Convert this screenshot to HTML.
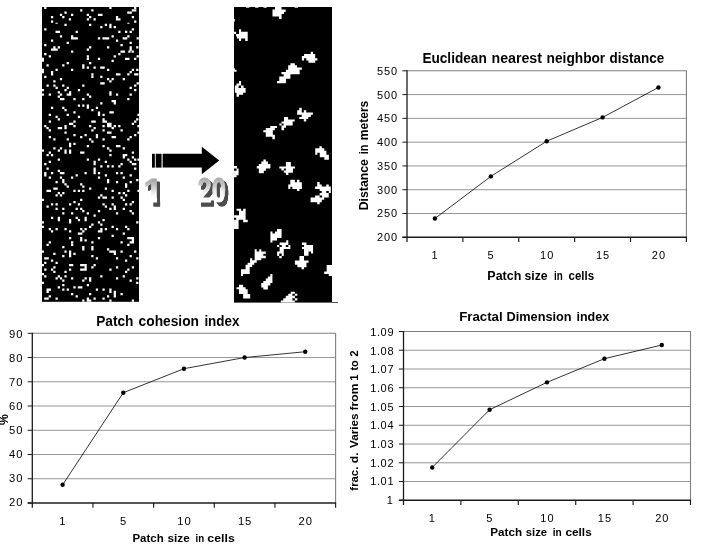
<!DOCTYPE html>
<html lang="en"><head><meta charset="utf-8">
<style>
html,body{margin:0;padding:0;background:#fff;}
body{width:702px;height:546px;overflow:hidden;font-family:"Liberation Sans",sans-serif;}
svg{display:block;position:absolute;left:0;top:0;}
text{font-family:"Liberation Sans",sans-serif;fill:#000;}
.b{font-weight:bold;}
.g{stroke:#969696;stroke-width:1;fill:none;}
.bd{stroke:#7e7e7e;stroke-width:1.1;}
.ax{stroke:#1c1c1c;stroke-width:1.5;fill:none;}
.ln{stroke:#000;stroke-width:0.8;fill:none;}
</style></head><body>
<svg width="702" height="546" viewBox="0 0 702 546">
<rect x="0" y="0" width="702" height="546" fill="#fff"/>
<g id="raster-left"><rect x="42" y="7" width="97" height="294.8" fill="#000"/>
<path d="M44.18 7.00H46.43V9.12H44.18zM80.12 9.18H82.37V11.43H80.12zM91.27 9.18H93.52V11.43H91.27zM64.42 11.49H66.67V13.74H64.42zM59.88 13.72H62.13V15.97H59.88zM71.03 13.72H73.28V15.97H71.03zM86.73 13.72H88.98V15.97H86.73zM50.95 15.95H53.20V18.20H50.95zM62.19 15.95H64.44V18.20H62.19zM89.04 15.95H91.29V18.20H89.04zM68.80 18.27H71.05V20.52H68.80zM86.73 18.27H88.98V20.52H86.73zM93.50 18.27H95.75V20.52H93.50zM50.95 20.50H53.20V22.75H50.95zM55.50 22.71H57.75V23.84H55.50zM64.42 23.80H66.67V26.05H64.42zM89.04 23.80H91.29V26.05H89.04zM44.18 28.35H46.43V30.60H44.18zM55.50 30.66H57.75V32.91H55.50zM57.73 30.66H59.98V32.91H57.73zM75.58 30.66H77.83V32.91H75.58zM59.88 35.21H62.13V37.46H59.88zM71.03 35.21H73.28V37.46H71.03zM71.03 37.27H73.28V39.52H71.03zM73.35 37.27H75.60V39.52H73.35zM75.58 37.27H77.83V39.52H75.58zM50.95 39.58H53.20V41.83H50.95zM66.65 41.82H68.90V44.07H66.65zM44.18 44.05H46.43V46.30H44.18zM53.27 46.36H55.52V48.61H53.27zM57.73 46.36H59.98V48.61H57.73zM89.04 46.36H91.29V48.61H89.04zM50.95 48.59H53.20V50.84H50.95zM53.27 48.59H55.52V50.84H53.27zM55.50 48.59H57.75V50.84H55.50zM86.73 48.59H88.98V50.84H86.73zM71.03 50.49H73.28V52.74H71.03zM109.31 7.00H111.56V9.12H109.31zM134.10 7.00H136.35V9.12H134.10zM134.10 9.18H136.35V11.43H134.10zM131.79 9.18H134.04V11.43H131.79zM127.24 11.49H129.49V13.74H127.24zM129.56 11.49H131.81V13.74H129.56zM97.91 13.72H100.16V15.97H97.91zM100.23 13.72H102.48V15.97H100.23zM115.92 15.95H118.17V18.20H115.92zM131.79 15.95H134.04V18.20H131.79zM115.92 18.27H118.17V20.52H115.92zM118.24 18.27H120.49V20.52H118.24zM134.10 20.50H136.35V22.75H134.10zM127.24 22.71H129.49V23.84H127.24zM104.77 23.80H107.02V26.05H104.77zM109.31 23.80H111.56V26.05H109.31zM100.23 26.12H102.48V28.37H100.23zM109.31 26.12H111.56V28.37H109.31zM113.69 26.12H115.94V28.37H113.69zM131.79 28.35H134.04V30.60H131.79zM118.24 30.66H120.49V32.91H118.24zM125.01 30.66H127.26V32.91H125.01zM129.56 30.66H131.81V32.91H129.56zM111.54 35.21H113.79V37.46H111.54zM127.24 35.21H129.49V37.46H127.24zM97.91 37.27H100.16V39.52H97.91zM102.46 37.27H104.71V39.52H102.46zM104.77 37.27H107.02V39.52H104.77zM107.00 37.27H109.25V39.52H107.00zM122.70 37.27H124.95V39.52H122.70zM125.01 37.27H127.26V39.52H125.01zM136.58 37.27H138.83V39.52H136.58zM115.92 39.58H118.17V41.83H115.92zM129.56 41.82H131.81V44.07H129.56zM120.47 44.05H122.72V46.30H120.47zM107.00 46.36H109.25V48.61H107.00zM129.56 46.36H131.81V48.61H129.56zM136.17 46.36H138.42V48.61H136.17zM129.56 48.59H131.81V50.84H129.56zM120.47 50.49H122.72V52.74H120.47zM122.70 50.49H124.95V52.74H122.70zM128.32 50.49H130.57V52.74H128.32zM131.62 50.49H133.87V52.74H131.62zM44.18 53.11H46.43V55.36H44.18zM48.72 55.34H50.97V57.59H48.72zM86.73 55.34H88.98V57.59H86.73zM86.73 57.65H88.98V59.90H86.73zM97.88 57.65H100.13V59.90H97.88zM42.00 57.65H43.95V59.90H42.00zM42.00 59.55H43.95V61.80H42.00zM66.65 62.03H68.90V64.28H66.65zM89.04 62.03H91.29V64.28H89.04zM46.49 64.26H48.74V66.51H46.49zM62.19 64.26H64.44V66.51H62.19zM82.19 64.26H84.44V66.51H82.19zM82.19 66.57H84.44V68.82H82.19zM86.73 66.57H88.98V68.82H86.73zM93.50 66.57H95.75V68.82H93.50zM55.50 68.80H57.75V71.05H55.50zM71.03 68.80H73.28V71.05H71.03zM42.00 68.80H43.95V71.05H42.00zM42.00 71.12H43.95V73.37H42.00zM50.95 71.12H53.20V73.37H50.95zM50.95 73.35H53.20V75.60H50.95zM91.27 73.35H93.52V75.60H91.27zM91.27 75.66H93.52V77.91H91.27zM44.18 75.66H46.43V77.91H44.18zM59.88 77.89H62.13V80.14H59.88zM53.27 80.21H55.52V82.46H53.27zM46.49 84.58H48.74V86.83H46.49zM53.27 84.58H55.52V86.83H53.27zM62.19 84.58H64.44V86.83H62.19zM82.19 84.58H84.44V86.83H82.19zM55.50 86.82H57.75V89.07H55.50zM66.65 86.82H68.90V89.07H66.65zM42.00 89.05H43.95V91.30H42.00zM64.42 89.05H66.67V91.30H64.42zM77.81 89.05H80.06V91.30H77.81zM57.73 91.36H59.98V93.61H57.73zM68.97 91.36H71.22V93.61H68.97zM42.00 93.59H43.95V95.84H42.00zM48.72 93.59H50.97V95.84H48.72zM59.88 93.59H62.13V95.84H59.88zM66.65 93.59H68.90V95.84H66.65zM68.97 93.59H71.22V95.84H68.97zM86.73 93.59H88.98V95.84H86.73zM57.73 95.49H59.98V97.74H57.73zM89.04 95.49H91.29V97.74H89.04zM118.24 53.11H120.49V55.36H118.24zM113.69 55.34H115.94V57.59H113.69zM136.58 55.34H138.83V57.59H136.58zM125.01 57.65H127.26V59.90H125.01zM127.24 57.65H129.49V59.90H127.24zM134.10 57.65H136.35V59.90H134.10zM111.54 59.80H113.79V62.05H111.54zM100.23 66.57H102.48V68.82H100.23zM102.46 66.57H104.71V68.82H102.46zM107.00 68.80H109.25V71.05H107.00zM131.79 68.80H134.04V71.05H131.79zM136.17 68.80H138.42V71.05H136.17zM129.56 71.12H131.81V73.37H129.56zM115.92 73.35H118.17V75.60H115.92zM118.24 73.35H120.49V75.60H118.24zM127.24 73.35H129.49V75.60H127.24zM134.10 73.35H136.35V75.60H134.10zM136.17 73.35H138.42V75.60H136.17zM100.23 75.66H102.48V77.91H100.23zM107.00 77.89H109.25V80.14H107.00zM111.54 77.89H113.79V80.14H111.54zM122.70 77.89H124.95V80.14H122.70zM109.31 80.21H111.56V82.46H109.31zM100.23 82.27H102.48V84.52H100.23zM102.46 82.27H104.71V84.52H102.46zM136.58 82.27H138.83V84.52H136.58zM134.10 84.58H136.35V86.83H134.10zM129.56 86.82H131.81V89.07H129.56zM134.10 89.05H136.35V91.30H134.10zM109.31 91.36H111.56V93.61H109.31zM109.31 93.59H111.56V95.84H109.31zM115.92 93.59H118.17V95.84H115.92zM129.56 93.59H131.81V95.84H129.56zM59.88 97.94H62.13V100.19H59.88zM62.19 97.94H64.44V100.19H62.19zM73.35 97.94H75.60V100.19H73.35zM82.19 97.94H84.44V100.19H82.19zM77.81 104.55H80.06V106.80H77.81zM82.19 104.55H84.44V106.80H82.19zM86.73 104.55H88.98V106.80H86.73zM86.73 106.62H88.98V108.87H86.73zM50.95 106.86H53.20V109.11H50.95zM62.19 106.86H64.44V109.11H62.19zM95.82 106.86H98.07V109.11H95.82zM64.42 109.09H66.67V111.34H64.42zM91.27 109.09H93.52V111.34H91.27zM73.35 111.33H75.60V113.58H73.35zM97.88 111.57H100.13V113.82H97.88zM97.88 113.64H100.13V115.89H97.88zM48.72 113.64H50.97V115.89H48.72zM66.65 113.64H68.90V115.89H66.65zM55.50 115.87H57.75V118.12H55.50zM77.81 115.87H80.06V118.12H77.81zM57.73 118.18H59.98V120.43H57.73zM48.72 120.41H50.97V122.66H48.72zM73.35 120.41H75.60V122.66H73.35zM91.27 120.41H93.52V122.66H91.27zM93.50 120.41H95.75V122.66H93.50zM68.97 122.73H71.22V124.98H68.97zM71.03 122.73H73.28V124.98H71.03zM44.18 124.96H46.43V127.21H44.18zM73.35 124.96H75.60V127.21H73.35zM89.04 124.96H91.29V127.21H89.04zM64.42 124.96H66.67V127.21H64.42zM64.42 127.11H66.67V129.36H64.42zM46.49 127.11H48.74V129.36H46.49zM57.73 127.11H59.98V129.36H57.73zM59.88 127.11H62.13V129.36H59.88zM93.50 127.11H95.75V129.36H93.50zM48.72 129.34H50.97V131.59H48.72zM91.27 129.34H93.52V131.59H91.27zM64.42 131.57H66.67V133.82H64.42zM73.35 133.88H75.60V136.13H73.35zM84.50 133.88H86.75V136.13H84.50zM95.82 133.88H98.07V136.13H95.82zM95.82 136.11H98.07V138.36H95.82zM48.72 136.11H50.97V138.36H48.72zM80.12 136.11H82.37V138.36H80.12zM53.27 138.34H55.52V140.59H53.27zM66.65 138.34H68.90V140.59H66.65zM89.04 138.34H91.29V140.59H89.04zM91.27 140.49H93.52V142.74H91.27zM127.24 97.94H129.49V100.19H127.24zM111.54 100.01H113.79V102.26H111.54zM113.69 100.01H115.94V102.26H113.69zM113.69 102.32H115.94V104.57H113.69zM100.23 102.32H102.48V104.57H100.23zM109.31 111.33H111.56V113.58H109.31zM111.54 111.33H113.79V113.58H111.54zM102.46 113.64H104.71V115.89H102.46zM137.40 113.64H139.00V115.89H137.40zM102.46 118.18H104.71V120.43H102.46zM102.46 120.41H104.71V122.66H102.46zM104.77 120.41H107.02V122.66H104.77zM136.17 118.18H138.42V120.43H136.17zM134.10 120.41H136.35V122.66H134.10zM107.00 122.73H109.25V124.98H107.00zM109.31 122.73H111.56V124.98H109.31zM107.00 124.96H109.25V127.21H107.00zM109.31 124.96H111.56V127.21H109.31zM131.79 122.73H134.04V124.98H131.79zM102.46 124.96H104.71V127.21H102.46zM113.69 124.96H115.94V127.21H113.69zM118.24 124.96H120.49V127.21H118.24zM137.40 124.96H139.00V127.21H137.40zM111.54 127.11H113.79V129.36H111.54zM102.46 129.34H104.71V131.59H102.46zM120.47 129.34H122.72V131.59H120.47zM107.00 131.57H109.25V133.82H107.00zM109.31 131.57H111.56V133.82H109.31zM137.40 131.57H139.00V133.82H137.40zM134.10 133.88H136.35V136.13H134.10zM111.54 136.11H113.79V138.36H111.54zM113.69 136.11H115.94V138.36H113.69zM129.56 136.11H131.81V138.36H129.56zM102.46 138.34H104.71V140.59H102.46zM127.24 138.34H129.49V140.59H127.24zM68.97 142.69H71.22V144.94H68.97zM68.97 145.01H71.22V147.26H68.97zM73.35 142.69H75.60V144.94H73.35zM86.73 145.01H88.98V147.26H86.73zM53.27 147.24H55.52V149.49H53.27zM59.88 147.24H62.13V149.49H59.88zM42.00 149.55H43.95V151.80H42.00zM57.73 149.55H59.98V151.80H57.73zM64.42 149.55H66.67V151.80H64.42zM64.42 151.62H66.67V153.87H64.42zM68.97 149.55H71.22V151.80H68.97zM68.97 151.62H71.22V153.87H68.97zM48.72 151.62H50.97V153.87H48.72zM80.12 151.62H82.37V153.87H80.12zM82.19 151.62H84.44V153.87H82.19zM46.49 153.93H48.74V156.18H46.49zM50.95 153.93H53.20V156.18H50.95zM57.73 158.47H59.98V160.72H57.73zM86.73 158.47H88.98V160.72H86.73zM97.88 158.47H100.13V160.72H97.88zM48.72 160.70H50.97V162.95H48.72zM93.50 160.70H95.75V162.95H93.50zM93.50 162.93H95.75V165.18H93.50zM44.18 162.93H46.43V165.18H44.18zM46.49 167.48H48.74V169.73H46.49zM93.50 167.48H95.75V169.73H93.50zM93.50 169.79H95.75V172.04H93.50zM93.50 172.02H95.75V174.27H93.50zM57.73 169.79H59.98V172.04H57.73zM44.18 172.02H46.43V174.27H44.18zM44.18 174.25H46.43V176.50H44.18zM50.95 172.02H53.20V174.27H50.95zM59.88 172.02H62.13V174.27H59.88zM62.19 172.02H64.44V174.27H62.19zM84.50 172.02H86.75V174.27H84.50zM97.88 172.02H100.13V174.27H97.88zM75.58 174.25H77.83V176.50H75.58zM48.72 176.57H50.97V178.82H48.72zM59.88 176.57H62.13V178.82H59.88zM71.03 176.57H73.28V178.82H71.03zM97.88 176.57H100.13V178.82H97.88zM62.19 178.88H64.44V181.13H62.19zM62.19 180.95H64.44V183.20H62.19zM55.50 180.95H57.75V183.20H55.50zM64.42 183.18H66.67V185.43H64.42zM80.12 183.18H82.37V185.43H80.12zM66.65 185.49H68.90V187.74H66.65zM82.19 185.49H84.44V187.74H82.19zM102.46 145.01H104.71V147.26H102.46zM115.92 145.01H118.17V147.26H115.92zM118.24 145.01H120.49V147.26H118.24zM107.00 147.24H109.25V149.49H107.00zM122.70 147.24H124.95V149.49H122.70zM109.31 149.55H111.56V151.80H109.31zM131.79 151.62H134.04V153.87H131.79zM109.31 153.93H111.56V156.18H109.31zM122.70 153.93H124.95V156.18H122.70zM125.01 153.93H127.26V156.18H125.01zM122.70 156.16H124.95V158.41H122.70zM131.79 156.16H134.04V158.41H131.79zM127.24 158.47H129.49V160.72H127.24zM134.10 158.47H136.35V160.72H134.10zM137.40 158.47H139.00V160.72H137.40zM104.77 160.70H107.02V162.95H104.77zM129.56 160.70H131.81V162.95H129.56zM120.47 162.93H122.72V165.18H120.47zM131.79 162.93H134.04V165.18H131.79zM134.10 162.93H136.35V165.18H134.10zM100.23 165.25H102.48V167.50H100.23zM107.00 165.25H109.25V167.50H107.00zM111.54 165.25H113.79V167.50H111.54zM118.24 165.25H120.49V167.50H118.24zM134.10 167.48H136.35V169.73H134.10zM115.92 172.02H118.17V174.27H115.92zM120.47 172.02H122.72V174.27H120.47zM104.77 174.25H107.02V176.50H104.77zM129.56 174.25H131.81V176.50H129.56zM122.70 176.57H124.95V178.82H122.70zM136.17 178.88H138.42V181.13H136.17zM107.00 178.88H109.25V181.13H107.00zM107.00 180.95H109.25V183.20H107.00zM115.92 180.95H118.17V183.20H115.92zM129.56 180.95H131.81V183.20H129.56zM125.01 183.18H127.26V185.43H125.01zM125.01 185.49H127.26V187.74H125.01zM53.27 187.53H55.52V189.78H53.27zM55.50 187.53H57.75V189.78H55.50zM89.04 187.53H91.29V189.78H89.04zM46.49 189.76H48.74V192.01H46.49zM48.72 189.76H50.97V192.01H48.72zM73.35 189.76H75.60V192.01H73.35zM77.81 189.76H80.06V192.01H77.81zM82.19 189.76H84.44V192.01H82.19zM57.73 192.07H59.98V194.32H57.73zM62.19 192.07H64.44V194.32H62.19zM55.50 194.30H57.75V196.55H55.50zM59.88 194.30H62.13V196.55H59.88zM97.88 196.62H100.13V198.87H97.88zM42.00 198.85H43.95V201.10H42.00zM80.12 198.85H82.37V201.10H80.12zM73.35 201.08H75.60V203.33H73.35zM50.95 203.31H53.20V205.56H50.95zM55.50 203.31H57.75V205.56H55.50zM68.97 203.31H71.22V205.56H68.97zM77.81 203.31H80.06V205.56H77.81zM46.49 205.54H48.74V207.79H46.49zM55.50 207.77H57.75V210.02H55.50zM62.19 207.77H64.44V210.02H62.19zM75.58 207.77H77.83V210.02H75.58zM80.12 207.77H82.37V210.02H80.12zM82.19 210.08H84.44V212.33H82.19zM97.88 210.08H100.13V212.33H97.88zM62.19 212.31H64.44V214.56H62.19zM71.03 212.31H73.28V214.56H71.03zM86.73 212.31H88.98V214.56H86.73zM93.50 214.54H95.75V216.79H93.50zM50.95 216.86H53.20V219.11H50.95zM57.73 216.86H59.98V219.11H57.73zM57.73 219.09H59.98V221.34H57.73zM75.58 216.86H77.83V219.11H75.58zM84.50 216.86H86.75V219.11H84.50zM84.50 219.09H86.75V221.34H84.50zM77.81 219.09H80.06V221.34H77.81zM68.97 219.09H71.22V221.34H68.97zM68.97 221.32H71.22V223.57H68.97zM42.00 221.32H43.95V223.57H42.00zM97.88 221.32H100.13V223.57H97.88zM91.27 223.55H93.52V225.80H91.27zM42.00 225.86H43.95V228.11H42.00zM89.04 225.86H91.29V228.11H89.04zM48.72 228.09H50.97V230.34H48.72zM55.50 228.09H57.75V230.34H55.50zM64.42 228.09H66.67V230.34H64.42zM80.12 228.09H82.37V230.34H80.12zM84.50 228.09H86.75V230.34H84.50zM50.95 230.33H53.20V232.58H50.95zM68.97 230.33H71.22V232.58H68.97zM82.19 230.33H84.44V232.58H82.19zM97.88 230.33H100.13V232.58H97.88zM104.77 187.53H107.02V189.78H104.77zM111.54 189.76H113.79V192.01H111.54zM127.24 189.76H129.49V192.01H127.24zM137.40 189.76H139.00V192.01H137.40zM118.24 192.07H120.49V194.32H118.24zM122.70 192.07H124.95V194.32H122.70zM100.23 194.30H102.48V196.55H100.23zM125.01 194.30H127.26V196.55H125.01zM102.46 196.62H104.71V198.87H102.46zM104.77 196.62H107.02V198.87H104.77zM111.54 196.62H113.79V198.87H111.54zM120.47 196.62H122.72V198.87H120.47zM122.70 198.85H124.95V201.10H122.70zM131.79 201.08H134.04V203.33H131.79zM102.46 203.31H104.71V205.56H102.46zM111.54 203.31H113.79V205.56H111.54zM125.01 203.31H127.26V205.56H125.01zM129.56 203.31H131.81V205.56H129.56zM104.77 205.54H107.02V207.79H104.77zM113.69 205.54H115.94V207.79H113.69zM113.69 207.77H115.94V210.02H113.69zM109.31 207.77H111.56V210.02H109.31zM122.70 207.77H124.95V210.02H122.70zM129.56 210.08H131.81V212.33H129.56zM115.92 212.31H118.17V214.56H115.92zM131.79 212.31H134.04V214.56H131.79zM102.46 219.09H104.71V221.34H102.46zM136.17 221.32H138.42V223.57H136.17zM100.23 223.55H102.48V225.80H100.23zM111.54 225.86H113.79V228.11H111.54zM125.01 225.86H127.26V228.11H125.01zM104.77 228.09H107.02V230.34H104.77zM115.92 228.09H118.17V230.34H115.92zM127.24 228.09H129.49V230.34H127.24zM100.23 228.09H102.48V230.34H100.23zM100.23 230.33H102.48V232.58H100.23zM77.81 232.53H80.06V234.78H77.81zM80.12 232.53H82.37V234.78H80.12zM68.97 236.91H71.22V239.16H68.97zM80.12 236.91H82.37V239.16H80.12zM80.12 239.14H82.37V241.39H80.12zM97.88 236.91H100.13V239.16H97.88zM84.50 239.14H86.75V241.39H84.50zM48.72 241.37H50.97V243.62H48.72zM71.03 241.37H73.28V243.62H71.03zM71.03 243.68H73.28V245.93H71.03zM91.27 241.37H93.52V243.62H91.27zM46.49 243.68H48.74V245.93H46.49zM62.19 245.91H64.44V248.16H62.19zM82.19 245.91H84.44V248.16H82.19zM82.19 248.14H84.44V250.39H82.19zM91.27 245.91H93.52V248.16H91.27zM91.27 248.14H93.52V250.39H91.27zM42.00 250.46H43.95V252.71H42.00zM64.42 250.46H66.67V252.71H64.42zM68.97 250.46H71.22V252.71H68.97zM68.97 252.69H71.22V254.94H68.97zM68.97 254.92H71.22V257.17H68.97zM53.27 252.69H55.52V254.94H53.27zM73.35 252.69H75.60V254.94H73.35zM62.19 254.92H64.44V257.17H62.19zM91.27 254.92H93.52V257.17H91.27zM44.18 257.15H46.43V259.40H44.18zM46.49 257.15H48.74V259.40H46.49zM95.82 257.15H98.07V259.40H95.82zM50.95 259.38H53.20V261.63H50.95zM44.18 261.69H46.43V263.94H44.18zM55.50 261.69H57.75V263.94H55.50zM42.00 263.92H43.95V266.17H42.00zM68.97 263.92H71.22V266.17H68.97zM71.03 263.92H73.28V266.17H71.03zM93.50 263.92H95.75V266.17H93.50zM80.12 263.92H82.37V266.17H80.12zM82.19 263.92H84.44V266.17H82.19zM84.50 263.92H86.75V266.17H84.50zM84.50 266.15H86.75V268.40H84.50zM80.12 268.47H82.37V270.72H80.12zM82.19 268.47H84.44V270.72H82.19zM84.50 268.47H86.75V270.72H84.50zM53.27 266.15H55.52V268.40H53.27zM91.27 266.15H93.52V268.40H91.27zM44.18 268.47H46.43V270.72H44.18zM50.95 268.47H53.20V270.72H50.95zM68.97 268.47H71.22V270.72H68.97zM53.27 270.70H55.52V272.95H53.27zM64.42 270.70H66.67V272.95H64.42zM42.00 272.93H43.95V275.18H42.00zM44.18 275.16H46.43V277.41H44.18zM57.73 275.16H59.98V277.41H57.73zM64.42 275.16H66.67V277.41H64.42zM122.70 232.53H124.95V234.78H122.70zM111.54 234.76H113.79V237.01H111.54zM127.24 236.91H129.49V239.16H127.24zM129.56 236.91H131.81V239.16H129.56zM131.79 236.91H134.04V239.16H131.79zM131.79 239.14H134.04V241.39H131.79zM129.56 241.37H131.81V243.62H129.56zM131.79 241.37H134.04V243.62H131.79zM127.24 243.68H129.49V245.93H127.24zM120.47 241.37H122.72V243.62H120.47zM107.00 248.14H109.25V250.39H107.00zM109.31 250.46H111.56V252.71H109.31zM111.54 250.46H113.79V252.71H111.54zM113.69 250.46H115.94V252.71H113.69zM113.69 252.69H115.94V254.94H113.69zM120.47 250.46H122.72V252.71H120.47zM134.10 250.46H136.35V252.71H134.10zM129.56 254.92H131.81V257.17H129.56zM115.92 257.15H118.17V259.40H115.92zM136.17 257.15H138.42V259.40H136.17zM125.01 259.38H127.26V261.63H125.01zM115.92 266.15H118.17V268.40H115.92zM131.79 266.15H134.04V268.40H131.79zM109.31 268.47H111.56V270.72H109.31zM127.24 268.47H129.49V270.72H127.24zM125.01 270.70H127.26V272.95H125.01zM100.23 275.16H102.48V277.41H100.23zM122.70 275.16H124.95V277.41H122.70zM55.50 277.30H57.75V279.55H55.50zM59.88 277.30H62.13V279.55H59.88zM71.03 277.30H73.28V279.55H71.03zM84.50 277.30H86.75V279.55H84.50zM89.04 277.30H91.29V279.55H89.04zM89.04 279.62H91.29V281.87H89.04zM62.19 279.62H64.44V281.87H62.19zM82.19 279.62H84.44V281.87H82.19zM42.00 281.85H43.95V284.10H42.00zM62.19 284.08H64.44V286.33H62.19zM86.73 284.08H88.98V286.33H86.73zM57.73 286.31H59.98V288.56H57.73zM73.35 286.31H75.60V288.56H73.35zM77.81 286.31H80.06V288.56H77.81zM80.12 286.31H82.37V288.56H80.12zM46.49 288.54H48.74V290.79H46.49zM48.72 288.54H50.97V290.79H48.72zM46.49 290.77H48.74V293.02H46.49zM62.19 288.54H64.44V290.79H62.19zM66.65 288.54H68.90V290.79H66.65zM95.82 288.54H98.07V290.79H95.82zM71.03 293.08H73.28V295.33H71.03zM89.04 293.08H91.29V295.33H89.04zM48.72 295.31H50.97V297.56H48.72zM75.58 295.31H77.83V297.56H75.58zM44.18 297.54H46.43V299.79H44.18zM46.49 297.54H48.74V299.79H46.49zM55.50 297.54H57.75V299.79H55.50zM86.73 297.54H88.98V299.79H86.73zM93.50 297.54H95.75V299.79H93.50zM82.19 299.61H84.44V301.80H82.19zM86.73 299.61H88.98V301.80H86.73zM89.04 299.61H91.29V301.80H89.04zM115.92 277.30H118.17V279.55H115.92zM136.17 277.30H138.42V279.55H136.17zM129.56 279.62H131.81V281.87H129.56zM136.17 281.85H138.42V284.10H136.17zM102.46 288.54H104.71V290.79H102.46zM109.31 288.54H111.56V290.79H109.31zM109.31 290.77H111.56V293.02H109.31zM113.69 290.77H115.94V293.02H113.69zM113.69 293.08H115.94V295.33H113.69zM113.69 295.31H115.94V297.56H113.69zM120.47 293.08H122.72V295.33H120.47zM107.00 295.31H109.25V297.56H107.00zM102.46 297.54H104.71V299.79H102.46zM109.31 299.61H111.56V301.80H109.31zM131.79 299.61H134.04V301.80H131.79z" fill="#fff"/></g>
<g id="raster-right"><rect x="234" y="7" width="98" height="295.6" fill="#000"/>
<rect x="332" y="302.0" width="6" height="0.7" fill="#000"/>
<path d="M274.96 7.07H281.57V9.54H274.96zM272.48 9.54H285.70V12.02H272.48zM272.48 12.02H284.05V14.09H272.48zM272.48 14.09H281.57V16.57H272.48zM279.09 16.57H281.57V19.05H279.09zM246.05 6.98H249.35V7.81H246.05zM255.13 6.98H258.44V7.81H255.13zM263.40 6.98H266.70V7.81H263.40zM239.02 29.37H241.09V31.85H239.02zM234.07 31.85H236.13V33.92H234.07zM239.02 31.85H247.70V33.92H239.02zM236.13 33.92H247.70V36.40H236.13zM236.96 36.40H247.70V38.46H236.96zM239.02 38.46H241.09V40.94H239.02zM245.22 38.46H247.70V40.94H245.22zM234.07 19.05H234.89V21.52H234.07zM310.74 51.81H312.96V53.89H310.74zM304.07 53.89H315.19V56.11H304.07zM301.85 56.11H315.19V58.33H301.85zM301.85 58.33H304.07V60.56H301.85zM306.30 58.33H317.41V60.56H306.30zM308.52 60.56H315.19V62.78H308.52zM290.37 63.15H294.81V65.37H290.37zM288.15 65.37H297.04V67.59H288.15zM288.15 67.59H301.85V69.81H288.15zM285.93 69.81H299.63V72.04H285.93zM281.48 72.04H299.63V74.26H281.48zM283.70 74.26H290.37V76.48H283.70zM279.26 76.48H290.37V78.70H279.26zM279.26 78.70H285.93V80.93H279.26zM277.04 80.93H285.93V83.15H277.04zM239.02 81.07H241.09V83.55H239.02zM236.54 83.55H241.09V85.61H236.54zM234.89 85.61H238.61V88.09H234.89zM241.09 85.61H243.57V88.09H241.09zM234.89 88.09H245.63V90.16H234.89zM234.89 90.16H245.63V92.64H234.89zM236.54 92.64H243.15V94.70H236.54zM236.54 94.70H239.02V96.77H236.54zM234.07 69.75H236.54V71.73H234.07zM234.07 68.26H234.89V69.75H234.07zM299.25 107.85H301.72V110.33H299.25zM297.18 110.33H301.72V112.39H297.18zM303.79 110.33H306.27V112.39H303.79zM297.18 112.39H312.88V114.87H297.18zM301.72 114.87H310.81V116.94H301.72zM299.25 116.94H308.33V119.00H299.25zM303.79 119.00H306.27V121.48H303.79zM283.96 116.94H288.09V119.42H283.96zM283.96 119.42H294.70V121.48H283.96zM281.48 121.48H292.64V123.55H281.48zM279.42 123.55H281.48V125.61H279.42zM283.55 123.55H292.64V125.61H283.55zM281.48 125.61H286.03V127.68H281.48zM281.48 127.68H283.96V130.16H281.48zM270.33 126.03H276.94V128.09H270.33zM265.78 128.09H274.87V130.16H265.78zM263.30 130.16H272.81V132.22H263.30zM265.78 132.22H272.81V134.70H265.78zM265.78 134.70H274.87V136.77H265.78zM272.39 136.77H274.87V139.25H272.39zM319.38 146.20H321.85V148.26H319.38zM315.25 148.26H324.33V150.74H315.25zM315.25 150.74H326.40V152.81H315.25zM315.25 152.81H317.31V154.87H315.25zM319.79 152.81H326.40V154.87H319.79zM319.79 154.87H328.88V157.35H319.79zM324.33 157.35H328.88V159.83H324.33zM285.91 161.89H290.87V166.44H285.91zM279.30 166.44H295.00V168.50H279.30zM281.37 168.50H283.85V170.57H281.37zM285.91 168.50H292.94V170.57H285.91zM283.85 170.57H292.94V172.64H283.85zM285.91 172.64H288.39V175.11H285.91zM263.40 159.50H265.87V161.57H263.40zM261.33 161.57H267.94V164.05H261.33zM258.85 164.05H270.42V166.11H258.85zM256.79 166.11H270.42V168.59H256.79zM258.85 168.59H265.87V170.66H258.85zM258.85 170.66H263.81V173.13H258.85zM234.07 166.11H236.96V168.59H234.07zM236.54 168.59H238.61V170.66H236.54zM234.07 170.66H238.61V175.20H234.07zM234.07 175.20H236.54V177.26H234.07zM290.33 179.85H294.87V182.33H290.33zM296.94 179.85H299.42V182.33H296.94zM290.33 182.33H301.89V184.39H290.33zM288.26 184.39H301.89V186.87H288.26zM288.26 186.87H290.33V188.94H288.26zM292.39 186.87H301.89V188.94H292.39zM296.94 188.94H299.42V191.00H296.94zM317.18 181.91H319.66V184.39H317.18zM317.18 184.39H321.72V186.46H317.18zM326.27 184.39H328.75V186.46H326.27zM315.11 186.46H330.81V188.94H315.11zM319.66 188.94H330.81V191.00H319.66zM321.72 191.00H326.27V193.07H321.72zM328.75 191.00H330.81V193.07H328.75zM319.66 193.07H328.75V195.55H319.66zM315.11 195.55H319.66V197.61H315.11zM322.14 195.55H328.75V197.61H322.14zM310.57 197.61H324.20V199.68H310.57zM310.57 199.68H321.72V202.16H310.57zM317.18 202.16H319.66V204.22H317.18zM236.54 208.68H241.09V210.74H236.54zM243.15 208.68H245.63V210.74H243.15zM239.02 210.74H245.63V215.28H239.02zM234.07 215.28H245.63V217.76H234.07zM236.13 217.76H245.63V219.83H236.13zM234.07 219.83H238.61V222.31H234.07zM243.15 219.83H247.70V222.31H243.15zM234.07 222.31H238.61V228.92H234.07zM277.03 228.92H281.57V231.40H277.03zM270.42 231.40H272.48V233.46H270.42zM274.96 231.40H281.57V233.46H274.96zM270.42 233.46H281.57V238.01H270.42zM270.42 238.01H277.03V240.48H270.42zM270.42 240.48H272.48V242.55H270.42zM286.24 240.37H288.31V242.44H286.24zM279.63 242.44H288.31V244.91H279.63zM277.15 244.91H279.22V246.98H277.15zM281.70 244.91H285.83V246.98H281.70zM288.31 244.91H290.37V246.98H288.31zM279.63 246.98H290.37V249.05H279.63zM279.63 249.05H283.76V251.52H279.63zM277.15 251.52H283.76V253.59H277.15zM277.15 253.59H279.22V256.07H277.15zM281.70 253.59H283.76V256.07H281.70zM279.22 256.07H281.70V258.13H279.22zM301.94 242.44H306.48V244.91H301.94zM304.01 244.91H313.09V246.98H304.01zM301.94 246.98H313.09V249.05H301.94zM304.01 249.05H313.09V251.52H304.01zM304.01 251.52H308.55V253.59H304.01zM311.03 251.52H313.09V253.59H311.03zM304.01 253.59H308.55V255.66H304.01zM299.46 256.07H304.01V260.61H299.46zM294.92 260.61H308.55V262.68H294.92zM294.92 262.68H306.48V264.74H294.92zM297.40 264.74H306.48V267.22H297.40zM301.53 267.22H304.01V269.29H301.53zM254.66 249.13H256.72V251.61H254.66zM259.20 249.13H261.26V251.61H259.20zM254.66 251.61H265.81V253.68H254.66zM254.66 253.68H263.33V255.74H254.66zM254.66 255.74H265.81V258.22H254.66zM250.11 258.22H252.18V260.28H250.11zM254.66 258.22H261.26V260.28H254.66zM250.11 260.28H256.72V262.76H250.11zM247.63 262.76H254.24V264.83H247.63zM245.57 264.83H252.18V266.89H245.57zM245.57 266.89H249.70V269.37H245.57zM241.02 269.37H249.70V273.92H241.02zM241.02 273.92H243.09V275.98H241.02zM270.35 273.92H272.42V276.40H270.35zM267.87 276.40H272.42V278.46H267.87zM265.81 278.46H272.42V280.94H265.81zM263.33 280.94H272.42V283.01H263.33zM261.26 283.01H270.35V285.48H261.26zM261.26 285.48H267.87V287.55H261.26zM263.33 287.55H267.87V289.62H263.33zM239.02 284.83H243.15V287.31H239.02zM236.54 287.31H245.63V289.37H236.54zM239.02 289.37H247.70V293.92H239.02zM243.15 293.92H250.18V298.46H243.15zM290.74 291.74H294.87V293.81H290.74zM288.26 293.81H292.39V295.87H288.26zM294.87 293.81H297.35V295.87H294.87zM285.78 295.87H294.87V298.35H285.78zM283.30 298.35H292.39V300.42H283.30zM294.87 298.35H297.35V300.42H294.87zM280.83 300.42H294.87V302.48H280.83zM326.68 264.89H332.05V271.50H326.68zM324.20 271.50H332.05V273.98H324.20zM328.75 273.98H332.05V276.05H328.75zM294.60 7.00H298.00V7.80H294.60z" fill="#fff"/>
</g>
<defs>
<linearGradient id="wg1" gradientUnits="userSpaceOnUse" x1="0" y1="-24" x2="0" y2="0.4"><stop offset="0" stop-color="#a0a0a0"/><stop offset="0.3" stop-color="#c2c2c2"/><stop offset="0.62" stop-color="#f0f0f0"/><stop offset="0.82" stop-color="#ffffff"/></linearGradient>
<linearGradient id="wg2" gradientUnits="userSpaceOnUse" x1="0" y1="-26.1" x2="0" y2="0.4"><stop offset="0" stop-color="#a0a0a0"/><stop offset="0.3" stop-color="#c2c2c2"/><stop offset="0.62" stop-color="#f0f0f0"/><stop offset="0.82" stop-color="#ffffff"/></linearGradient>
<filter id="sh" x="-20%" y="-20%" width="150%" height="150%" color-interpolation-filters="sRGB"><feFlood flood-color="#4c4c4c" result="c"/><feOffset in="SourceAlpha" dx="3" dy="3.7" result="o3"/><feOffset in="SourceAlpha" dx="2.7" dy="3.3" result="o2"/><feOffset in="SourceAlpha" dx="3" dy="3.5" result="o1"/><feMerge result="m"><feMergeNode in="o3"/><feMergeNode in="o2"/><feMergeNode in="o1"/></feMerge><feComposite in="c" in2="m" operator="in" result="s"/><feMerge><feMergeNode in="s"/><feMergeNode in="SourceGraphic"/></feMerge></filter>
<clipPath id="c1"><path d="M-5 -32H25V-4.2H13.1V3H7V-4.2H-5z"/></clipPath>
</defs>
<g id="arrow" fill="#000">
<rect x="152.0" y="153.8" width="2.85" height="13.8"/>
<rect x="155.75" y="153.8" width="5.8" height="13.8"/>
<path d="M162.65 153.8H201.8V146.7L219.2 160.6L201.8 174.2V167.6H162.65z"/>
</g>
<g id="wordart" font-weight="bold" style="stroke-linejoin:round">
<g filter="url(#sh)"><text transform="translate(143.3 202) scale(1.05 1)" x="0" y="0" font-size="33.5" clip-path="url(#c1)" style="fill:url(#wg1);stroke:url(#wg1);stroke-width:0.8">1</text></g>
<g filter="url(#sh)"><text transform="translate(197.5 201.8) scale(0.71 1)" x="0" y="0" font-size="36" style="fill:url(#wg2);stroke:url(#wg2);stroke-width:0.9">20</text></g>
</g>
<g id="chart-enn">
<line class="g" x1="407.0" y1="213.51" x2="686.4" y2="213.51"/>
<line class="g" x1="407.0" y1="189.73" x2="686.4" y2="189.73"/>
<line class="g" x1="407.0" y1="165.94" x2="686.4" y2="165.94"/>
<line class="g" x1="407.0" y1="142.16" x2="686.4" y2="142.16"/>
<line class="g" x1="407.0" y1="118.37" x2="686.4" y2="118.37"/>
<line class="g" x1="407.0" y1="94.59" x2="686.4" y2="94.59"/>
<line class="g bd" x1="407.0" y1="70.80" x2="686.9" y2="70.80"/>
<line class="g bd" x1="686.4" y1="70.8" x2="686.4" y2="237.3"/>
<line class="ax" x1="407.0" y1="70.3" x2="407.0" y2="242.0" style="stroke-width:1.3"/>
<line class="ax" x1="402.4" y1="237.3" x2="686.9" y2="237.3"/>
<line class="ax" x1="402.4" y1="237.30" x2="407.0" y2="237.30" style="stroke-width:1"/>
<text x="377.00" y="241.24" font-size="11" textLength="20.00">200</text>
<line class="ax" x1="402.4" y1="213.51" x2="407.0" y2="213.51" style="stroke-width:1"/>
<text x="377.00" y="217.45" font-size="11" textLength="20.00">250</text>
<line class="ax" x1="402.4" y1="189.73" x2="407.0" y2="189.73" style="stroke-width:1"/>
<text x="377.00" y="193.67" font-size="11" textLength="20.00">300</text>
<line class="ax" x1="402.4" y1="165.94" x2="407.0" y2="165.94" style="stroke-width:1"/>
<text x="377.00" y="169.88" font-size="11" textLength="20.00">350</text>
<line class="ax" x1="402.4" y1="142.16" x2="407.0" y2="142.16" style="stroke-width:1"/>
<text x="377.00" y="146.10" font-size="11" textLength="20.00">400</text>
<line class="ax" x1="402.4" y1="118.37" x2="407.0" y2="118.37" style="stroke-width:1"/>
<text x="377.00" y="122.31" font-size="11" textLength="20.00">450</text>
<line class="ax" x1="402.4" y1="94.59" x2="407.0" y2="94.59" style="stroke-width:1"/>
<text x="377.00" y="98.52" font-size="11" textLength="20.00">500</text>
<line class="ax" x1="402.4" y1="70.80" x2="407.0" y2="70.80" style="stroke-width:1"/>
<text x="377.00" y="74.74" font-size="11" textLength="20.00">550</text>
<line class="ax" x1="462.88" y1="237.3" x2="462.88" y2="242.0" style="stroke-width:1.15"/>
<line class="ax" x1="518.76" y1="237.3" x2="518.76" y2="242.0" style="stroke-width:1.15"/>
<line class="ax" x1="574.64" y1="237.3" x2="574.64" y2="242.0" style="stroke-width:1.15"/>
<line class="ax" x1="630.52" y1="237.3" x2="630.52" y2="242.0" style="stroke-width:1.15"/>
<line class="ax" x1="686.40" y1="237.3" x2="686.40" y2="242.0" style="stroke-width:1.15"/>
<text x="431.61" y="259.34" font-size="11" textLength="6.67">1</text>
<text x="487.49" y="259.34" font-size="11" textLength="6.67">5</text>
<text x="540.03" y="259.34" font-size="11" textLength="13.33">10</text>
<text x="595.91" y="259.34" font-size="11" textLength="13.33">15</text>
<text x="651.79" y="259.34" font-size="11" textLength="13.33">20</text>
<polyline class="ln" points="434.94,218.51 490.82,176.41 546.70,141.21 602.58,117.42 658.46,87.45"/>
<circle cx="434.94" cy="218.51" r="2.2" fill="#000"/>
<circle cx="490.82" cy="176.41" r="2.2" fill="#000"/>
<circle cx="546.70" cy="141.21" r="2.2" fill="#000"/>
<circle cx="602.58" cy="117.42" r="2.2" fill="#000"/>
<circle cx="658.46" cy="87.45" r="2.2" fill="#000"/>
<text class="b" y="62.7" font-size="13.8"><tspan x="422.39" textLength="64.33" lengthAdjust="spacingAndGlyphs">Euclidean</tspan> <tspan x="491.49" textLength="50.43" lengthAdjust="spacingAndGlyphs">nearest</tspan> <tspan x="546.59" textLength="58.63" lengthAdjust="spacingAndGlyphs">neighbor</tspan> <tspan x="609.59" textLength="54.53" lengthAdjust="spacingAndGlyphs">distance</tspan></text>
<text class="b" y="280.2" font-size="12.0"><tspan x="487.34" textLength="34.02" lengthAdjust="spacingAndGlyphs">Patch</tspan> <tspan x="524.44" textLength="23.12" lengthAdjust="spacingAndGlyphs">size</tspan> <tspan x="554.04" textLength="8.72" lengthAdjust="spacingAndGlyphs">in</tspan> <tspan x="568.54" textLength="25.52" lengthAdjust="spacingAndGlyphs">cells</tspan></text>
<text class="b" transform="translate(367.7 0) rotate(-90)" y="0" font-size="12.2"><tspan x="-210.37" textLength="51.33" lengthAdjust="spacingAndGlyphs">Distance</tspan> <tspan x="-154.27" textLength="9.83" lengthAdjust="spacingAndGlyphs">in</tspan> <tspan x="-140.37" textLength="39.73" lengthAdjust="spacingAndGlyphs">meters</tspan></text>
</g>
<g id="chart-coh">
<line class="g" x1="32.3" y1="478.76" x2="335.6" y2="478.76"/>
<line class="g" x1="32.3" y1="454.51" x2="335.6" y2="454.51"/>
<line class="g" x1="32.3" y1="430.27" x2="335.6" y2="430.27"/>
<line class="g" x1="32.3" y1="406.03" x2="335.6" y2="406.03"/>
<line class="g" x1="32.3" y1="381.79" x2="335.6" y2="381.79"/>
<line class="g" x1="32.3" y1="357.54" x2="335.6" y2="357.54"/>
<line class="g bd" x1="32.3" y1="333.30" x2="336.1" y2="333.30"/>
<line class="g bd" x1="335.6" y1="333.3" x2="335.6" y2="503.0"/>
<line class="ax" x1="32.3" y1="332.8" x2="32.3" y2="507.7" style="stroke-width:1.3"/>
<line class="ax" x1="27.699999999999996" y1="503.0" x2="336.1" y2="503.0"/>
<line class="ax" x1="27.699999999999996" y1="503.00" x2="32.3" y2="503.00" style="stroke-width:1"/>
<text x="9.11" y="506.41" font-size="11.2" textLength="13.39">20</text>
<line class="ax" x1="27.699999999999996" y1="478.76" x2="32.3" y2="478.76" style="stroke-width:1"/>
<text x="9.11" y="482.31" font-size="11.2" textLength="13.39">30</text>
<line class="ax" x1="27.699999999999996" y1="454.51" x2="32.3" y2="454.51" style="stroke-width:1"/>
<text x="9.11" y="458.21" font-size="11.2" textLength="13.39">40</text>
<line class="ax" x1="27.699999999999996" y1="430.27" x2="32.3" y2="430.27" style="stroke-width:1"/>
<text x="9.11" y="434.11" font-size="11.2" textLength="13.39">50</text>
<line class="ax" x1="27.699999999999996" y1="406.03" x2="32.3" y2="406.03" style="stroke-width:1"/>
<text x="9.11" y="410.01" font-size="11.2" textLength="13.39">60</text>
<line class="ax" x1="27.699999999999996" y1="381.79" x2="32.3" y2="381.79" style="stroke-width:1"/>
<text x="9.11" y="385.91" font-size="11.2" textLength="13.39">70</text>
<line class="ax" x1="27.699999999999996" y1="357.54" x2="32.3" y2="357.54" style="stroke-width:1"/>
<text x="9.11" y="361.81" font-size="11.2" textLength="13.39">80</text>
<line class="ax" x1="27.699999999999996" y1="333.30" x2="32.3" y2="333.30" style="stroke-width:1"/>
<text x="9.11" y="337.71" font-size="11.2" textLength="13.39">90</text>
<line class="ax" x1="92.96" y1="503.0" x2="92.96" y2="507.7" style="stroke-width:1.15"/>
<line class="ax" x1="153.62" y1="503.0" x2="153.62" y2="507.7" style="stroke-width:1.15"/>
<line class="ax" x1="214.28" y1="503.0" x2="214.28" y2="507.7" style="stroke-width:1.15"/>
<line class="ax" x1="274.94" y1="503.0" x2="274.94" y2="507.7" style="stroke-width:1.15"/>
<line class="ax" x1="335.60" y1="503.0" x2="335.60" y2="507.7" style="stroke-width:1.15"/>
<text x="59.28" y="525.41" font-size="11.2" textLength="6.69">1</text>
<text x="119.94" y="525.41" font-size="11.2" textLength="6.69">5</text>
<text x="177.26" y="525.41" font-size="11.2" textLength="13.39">10</text>
<text x="237.92" y="525.41" font-size="11.2" textLength="13.39">15</text>
<text x="298.58" y="525.41" font-size="11.2" textLength="13.39">20</text>
<polyline class="ln" points="62.63,484.82 123.29,392.69 183.95,368.69 244.61,357.54 305.27,351.72"/>
<circle cx="62.63" cy="484.82" r="2.2" fill="#000"/>
<circle cx="123.29" cy="392.69" r="2.2" fill="#000"/>
<circle cx="183.95" cy="368.69" r="2.2" fill="#000"/>
<circle cx="244.61" cy="357.54" r="2.2" fill="#000"/>
<circle cx="305.27" cy="351.72" r="2.2" fill="#000"/>
<text class="b" y="325.9" font-size="13.8"><tspan x="96.19" textLength="37.23" lengthAdjust="spacingAndGlyphs">Patch</tspan> <tspan x="138.59" textLength="60.43" lengthAdjust="spacingAndGlyphs">cohesion</tspan> <tspan x="204.39" textLength="35.03" lengthAdjust="spacingAndGlyphs">index</tspan></text>
<text class="b" y="542.0" font-size="11.0"><tspan x="132.47" textLength="31.26" lengthAdjust="spacingAndGlyphs">Patch</tspan> <tspan x="167.57" textLength="22.16" lengthAdjust="spacingAndGlyphs">size</tspan> <tspan x="195.47" textLength="8.66" lengthAdjust="spacingAndGlyphs">in</tspan> <tspan x="207.37" textLength="27.46" lengthAdjust="spacingAndGlyphs">cells</tspan></text>
<text class="b" transform="translate(7.8 0) rotate(-90)" y="0" font-size="12.3"><tspan x="-424.97">%</tspan></text>
</g>
<g id="chart-frac">
<line class="g" x1="403.5" y1="481.54" x2="690.5" y2="481.54"/>
<line class="g" x1="403.5" y1="462.79" x2="690.5" y2="462.79"/>
<line class="g" x1="403.5" y1="444.03" x2="690.5" y2="444.03"/>
<line class="g" x1="403.5" y1="425.28" x2="690.5" y2="425.28"/>
<line class="g" x1="403.5" y1="406.52" x2="690.5" y2="406.52"/>
<line class="g" x1="403.5" y1="387.77" x2="690.5" y2="387.77"/>
<line class="g" x1="403.5" y1="369.01" x2="690.5" y2="369.01"/>
<line class="g" x1="403.5" y1="350.26" x2="690.5" y2="350.26"/>
<line class="g bd" x1="403.5" y1="331.50" x2="691.0" y2="331.50"/>
<line class="g bd" x1="690.5" y1="331.5" x2="690.5" y2="500.3"/>
<line class="ax" x1="403.5" y1="331.0" x2="403.5" y2="505.0" style="stroke-width:1.3"/>
<line class="ax" x1="398.9" y1="500.3" x2="691.0" y2="500.3"/>
<line class="ax" x1="398.9" y1="500.30" x2="403.5" y2="500.30" style="stroke-width:1"/>
<text x="386.83" y="503.94" font-size="11" textLength="6.67">1</text>
<line class="ax" x1="398.9" y1="481.54" x2="403.5" y2="481.54" style="stroke-width:1"/>
<text x="370.17" y="485.28" font-size="11" textLength="23.33">1.01</text>
<line class="ax" x1="398.9" y1="462.79" x2="403.5" y2="462.79" style="stroke-width:1"/>
<text x="370.17" y="466.63" font-size="11" textLength="23.33">1.02</text>
<line class="ax" x1="398.9" y1="444.03" x2="403.5" y2="444.03" style="stroke-width:1"/>
<text x="370.17" y="447.97" font-size="11" textLength="23.33">1.03</text>
<line class="ax" x1="398.9" y1="425.28" x2="403.5" y2="425.28" style="stroke-width:1"/>
<text x="370.17" y="429.32" font-size="11" textLength="23.33">1.04</text>
<line class="ax" x1="398.9" y1="406.52" x2="403.5" y2="406.52" style="stroke-width:1"/>
<text x="370.17" y="410.66" font-size="11" textLength="23.33">1.05</text>
<line class="ax" x1="398.9" y1="387.77" x2="403.5" y2="387.77" style="stroke-width:1"/>
<text x="370.17" y="392.00" font-size="11" textLength="23.33">1.06</text>
<line class="ax" x1="398.9" y1="369.01" x2="403.5" y2="369.01" style="stroke-width:1"/>
<text x="370.17" y="373.35" font-size="11" textLength="23.33">1.07</text>
<line class="ax" x1="398.9" y1="350.26" x2="403.5" y2="350.26" style="stroke-width:1"/>
<text x="370.17" y="354.69" font-size="11" textLength="23.33">1.08</text>
<line class="ax" x1="398.9" y1="331.50" x2="403.5" y2="331.50" style="stroke-width:1"/>
<text x="370.17" y="336.04" font-size="11" textLength="23.33">1.09</text>
<line class="ax" x1="460.90" y1="500.3" x2="460.90" y2="505.0" style="stroke-width:1.15"/>
<line class="ax" x1="518.30" y1="500.3" x2="518.30" y2="505.0" style="stroke-width:1.15"/>
<line class="ax" x1="575.70" y1="500.3" x2="575.70" y2="505.0" style="stroke-width:1.15"/>
<line class="ax" x1="633.10" y1="500.3" x2="633.10" y2="505.0" style="stroke-width:1.15"/>
<line class="ax" x1="690.50" y1="500.3" x2="690.50" y2="505.0" style="stroke-width:1.15"/>
<text x="428.87" y="521.94" font-size="11" textLength="6.67">1</text>
<text x="486.27" y="521.94" font-size="11" textLength="6.67">5</text>
<text x="540.33" y="521.94" font-size="11" textLength="13.33">10</text>
<text x="597.73" y="521.94" font-size="11" textLength="13.33">15</text>
<text x="655.13" y="521.94" font-size="11" textLength="13.33">20</text>
<polyline class="ln" points="432.20,467.48 489.60,409.71 547.00,382.33 604.40,358.70 661.80,345.00"/>
<circle cx="432.20" cy="467.48" r="2.2" fill="#000"/>
<circle cx="489.60" cy="409.71" r="2.2" fill="#000"/>
<circle cx="547.00" cy="382.33" r="2.2" fill="#000"/>
<circle cx="604.40" cy="358.70" r="2.2" fill="#000"/>
<circle cx="661.80" cy="345.00" r="2.2" fill="#000"/>
<text class="b" y="321.2" font-size="13.0"><tspan x="459.21" textLength="43.38" lengthAdjust="spacingAndGlyphs">Fractal</tspan> <tspan x="506.51" textLength="65.08" lengthAdjust="spacingAndGlyphs">Dimension</tspan> <tspan x="576.51" textLength="32.68" lengthAdjust="spacingAndGlyphs">index</tspan></text>
<text class="b" y="536.0" font-size="11.4"><tspan x="490.26" textLength="31.78" lengthAdjust="spacingAndGlyphs">Patch</tspan> <tspan x="525.76" textLength="21.38" lengthAdjust="spacingAndGlyphs">size</tspan> <tspan x="552.76" textLength="8.98" lengthAdjust="spacingAndGlyphs">in</tspan> <tspan x="565.46" textLength="26.28" lengthAdjust="spacingAndGlyphs">cells</tspan></text>
<text class="b" transform="translate(358.3 0) rotate(-90)" y="0" font-size="11.5"><tspan x="-490.65" textLength="23.99" lengthAdjust="spacingAndGlyphs">frac.</tspan> <tspan x="-463.25" textLength="10.79" lengthAdjust="spacingAndGlyphs">d.</tspan> <tspan x="-448.05" textLength="34.59" lengthAdjust="spacingAndGlyphs">Varies</tspan> <tspan x="-410.45" textLength="26.79" lengthAdjust="spacingAndGlyphs">from</tspan> <tspan x="-380.85">1</tspan> <tspan x="-370.55" textLength="10.29" lengthAdjust="spacingAndGlyphs">to</tspan> <tspan x="-356.65">2</tspan></text>
</g>
</svg>
</body></html>
